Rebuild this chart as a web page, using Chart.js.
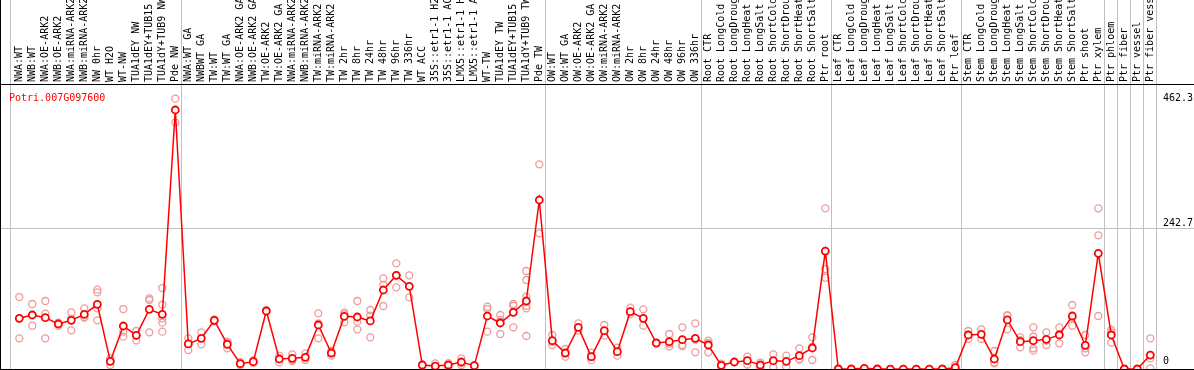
<!DOCTYPE html>
<html>
<head>
<meta charset="utf-8">
<script src="https://cdn.jsdelivr.net/npm/chart.js@4"></script>
<style>
  html, body { margin: 0; padding: 0; background: #fff; }
  canvas { display: block; }
</style>
</head>
<body>
<canvas id="expr" width="1194" height="370"></canvas>
<script>
const geneId = "Potri.007G097600";

const samples = [
  "NWA:WT", "NWB:WT", "NWA:OE-ARK2", "NWB:OE-ARK2", "NWA:miRNA-ARK2", "NWB:miRNA-ARK2",
  "NW 0hr", "WT H2O", "WT-NW", "TUA1dEY NW", "TUA1dEY+TUB15", "TUA1dY+TUB9 NW", "Pde NW",
  "NWA:WT GA", "NWBWT GA", "TW:WT", "TW:WT GA", "NWA:OE-ARK2 GA", "NWB:OE-ARK2 GA",
  "TW:OE-ARK2", "TW:OE-ARK2 GA", "NWA:miRNA-ARK2", "NWB:miRNA-ARK2", "TW:miRNA-ARK2",
  "TW:miRNA-ARK2", "TW 2hr", "TW 8hr", "TW 24hr", "TW 48hr", "TW 96hr", "TW 336hr",
  "WT ACC", "35S::etr1-1 H2O", "35S::etr1-1 ACC", "LMX5::etr1-1 H2O", "LMX5::etr1-1 ACC",
  "WT-TW", "TUA1dEY TW", "TUA1dEY+TUB15", "TUA1dY+TUB9 TW", "Pde TW",
  "OW:WT", "OW:WT GA", "OW:OE-ARK2", "OW:OE-ARK2 GA", "OW:miRNA-ARK2", "OW:miRNA-ARK2",
  "OW 2hr", "OW 8hr", "OW 24hr", "OW 48hr", "OW 96hr", "OW 336hr",
  "Root CTR", "Root LongCold", "Root LongDrought", "Root LongHeat", "Root LongSalt",
  "Root ShortCold", "Root ShortDrought", "Root ShortHeat", "Root ShortSalt", "Ptr root",
  "Leaf CTR", "Leaf LongCold", "Leaf LongDrought", "Leaf LongHeat", "Leaf LongSalt",
  "Leaf ShortCold", "Leaf ShortDrought", "Leaf ShortHeat", "Leaf ShortSalt", "Ptr leaf",
  "Stem CTR", "Stem LongCold", "Stem LongDrought", "Stem LongHeat", "Stem LongSalt",
  "Stem ShortCold", "Stem ShortDrought", "Stem ShortHeat", "Stem ShortSalt", "Ptr shoot",
  "Ptr xylem", "Ptr phloem", "Ptr fiber", "Ptr vessel", "Ptr fiber vessel"
];

const means = [
  90.8, 96.4, 91.9, 81.2, 87.4, 97.5, 114.4, 18, 77.8, 62, 106, 97.5, 443.1,
  47.4, 56.9, 87.4, 46.8, 14.1, 17.5, 103.2, 22, 23.1, 24.8, 79.5, 32.1,
  94.1, 93, 86.3, 138.7, 163.5, 144.9, 11.8, 10.1, 11.8, 16.9, 10.7,
  94.7, 82.9, 100.9, 120.1, 290.9,
  53, 32.1, 75.5, 25.9, 69.9, 34.4, 102, 90.8, 49, 51.3, 54.7, 56.9,
  45.7, 11.3, 16.9, 19.2, 11.8, 19.2, 18, 27.6, 40.6, 204.6,
  5.1, 5.1, 6.2, 5.1, 5, 5, 5, 5, 5.1, 7.3,
  62.6, 63.7, 22, 88, 51.3, 53, 55.2, 62.6, 94.7, 45.1,
  200.7, 62.6, 5.1, 5.1, 28.7
];

const replicates = [
  [126.8, 90.8, 56.9], [115, 96.4, 78.3], [120.1, 98.6, 56.9], [83.5, 81, 78],
  [100.9, 90, 70.5], [107.7, 93, 92], [139.3, 134.7, 107.7, 87.4], [23.1, 18, 11.8],
  [106.5, 68.2, 59.8], [69.3, 62, 53.5], [124.6, 121.8, 67.1],
  [142, 113.9, 90.8, 83.4, 68.2], [462.3, 422.2],
  [56.9, 37.2, 48], [67.1, 46.8], [89, 85.5], [51.3, 40, 49], [11.8, 16.5], [20, 15],
  [104.5, 102], [27.6, 16.3], [29.9, 20.8, 18.5], [31.6, 20.3], [99.2, 56.9, 82],
  [35.5, 27.6, 33], [97.5, 84, 100.5], [120.1, 85.1, 72.1], [104.9, 95.3, 58.6],
  [158.4, 147.1, 111.6], [183.8, 143.2, 163.5], [163.5, 126.3],
  [13, 10.5], [14.6, 8, 7.5], [15, 9], [23.1, 11.8, 15.5], [10.7, 11],
  [110.4, 106.5, 68.2], [96.4, 88, 64.3], [115, 112, 75.5],
  [170.8, 155.6, 127.4, 119, 107.7, 112, 60.9], [351.2, 234.5],
  [62.6, 45.7, 51], [38.9, 25.9, 31.5], [82.3, 70], [32.7, 20, 25], [79.5, 61.5],
  [41.2, 27.6], [108.8, 98], [106, 78.3], [49, 50], [64.3, 48, 43.5],
  [75.5, 45.7, 44], [82.3, 33.3, 55],
  [53, 33.3, 49], [14, 9], [17, 16.5], [25.9, 12.5], [7, 16], [29.9, 8], [27.6, 9],
  [40, 22, 21], [58.6, 20.3, 43], [276.8, 174.2, 159.5],
  [5], [5], [6], [5], [5], [5], [5], [5], [5], [11.8, 5],
  [69.3, 55.8, 63], [72.1, 55.8], [35.5, 14.6, 16], [95.3, 72.1, 96], [58.6, 41.7, 54],
  [75.5, 40, 36.1, 60], [67.1, 45.7, 53], [75.5, 48.5, 64], [113.3, 78.3, 92],
  [62.6, 33.3, 40], [276.8, 231.1, 94.7], [71, 49.7, 67], [5], [5], [56.9, 6.2, 23]
];

// last sample index of each tissue/experiment block
const groupEnds = [12, 40, 52, 62, 72, 83, 84, 85, 86, 87];
const yTicks = [0, 242.7, 462.3];
const yMax = 485.4;

const meanPoints = means.map((v, i) => ({ x: i, y: v }));
const repPoints = [];
replicates.forEach((reps, i) => reps.forEach(v => repPoints.push({ x: i, y: v })));

const mono = '"DejaVu Sans Mono", "Liberation Mono", monospace';

const frame = {
  id: "frame",
  beforeDatasetsDraw(chart) {
    const ctx = chart.ctx;
    const xs = chart.scales.x, ys = chart.scales.y;
    ctx.save();
    ctx.strokeStyle = "#c0c0c0";
    ctx.lineWidth = 1;
    const lines = [-0.72].concat(groupEnds.map(e => e + 0.4));
    lines.forEach(v => {
      const px = Math.round(xs.getPixelForValue(v)) + 0.5;
      ctx.beginPath();
      ctx.moveTo(px, 0);
      ctx.lineTo(px, 369);
      ctx.stroke();
    });
    const gy = Math.round(ys.getPixelForValue(yTicks[1])) + 0.5;
    ctx.beginPath();
    ctx.moveTo(1, gy);
    ctx.lineTo(chart.width, gy);
    ctx.stroke();
    ctx.restore();
  },
  afterDraw(chart) {
    const ctx = chart.ctx;
    const xs = chart.scales.x, ys = chart.scales.y;
    const area = chart.chartArea;
    ctx.save();
    // borders
    ctx.strokeStyle = "#000";
    ctx.lineWidth = 1;
    ctx.beginPath();
    ctx.moveTo(0.5, 0); ctx.lineTo(0.5, 370);
    ctx.moveTo(0, 84.5); ctx.lineTo(chart.width, 84.5);
    ctx.moveTo(0, 369.5); ctx.lineTo(chart.width, 369.5);
    ctx.stroke();

    // sample labels, rotated
    ctx.fillStyle = "#000";
    ctx.font = "10px " + mono;
    ctx.textAlign = "left";
    ctx.textBaseline = "middle";
    samples.forEach((s, i) => {
      ctx.save();
      ctx.translate(Math.round(xs.getPixelForValue(i)) + 0.5, 82);
      ctx.rotate(-Math.PI / 2);
      ctx.fillText(s, 0, 0);
      ctx.restore();
    });

    // value labels
    ctx.textBaseline = "top";
    yTicks.forEach(v => {
      let py = ys.getPixelForValue(v);
      if (v === 0) { ctx.textBaseline = "bottom"; py = area.bottom - 4; }
      else if (py < area.top + 18) py = area.top + 18;
      else py = py - 0.5;
      ctx.fillText(String(v), 1163, py);
    });

    // gene id
    ctx.fillStyle = "#ff0000";
    ctx.textBaseline = "alphabetic";
    ctx.fillText(geneId, 9, 101);
    ctx.restore();
  }
};

new Chart(document.getElementById("expr").getContext("2d"), {
  type: "line",
  data: {
    datasets: [
      {
        label: "mean",
        data: meanPoints,
        borderColor: "#ff0000",
        borderWidth: 1.5,
        pointRadius: 3.5,
        pointBorderWidth: 1.8,
        pointBorderColor: "#ff0000",
        pointBackgroundColor: "#ffffff",
        tension: 0,
        fill: false,
      },
      {
        type: "scatter",
        label: "replicates",
        data: repPoints,
        showLine: false,
        pointRadius: 3.5,
        pointBorderWidth: 1.3,
        pointBorderColor: "#ef9a9a",
        pointBackgroundColor: "rgba(0,0,0,0)",
      },
    ],
  },
  options: {
    responsive: false,
    animation: false,
    layout: { autoPadding: false, padding: { top: 85, left: 1, right: 0, bottom: 0 } },
    scales: {
      x: { type: "linear", min: -1.408, max: -1.408 + 1193 / 13, display: false },
      y: { type: "linear", min: 3.38, max: yMax, display: false },
    },
    plugins: {
      legend: { display: false },
      tooltip: { enabled: false },
    },
  },
  plugins: [frame],
});
</script>
</body>
</html>
